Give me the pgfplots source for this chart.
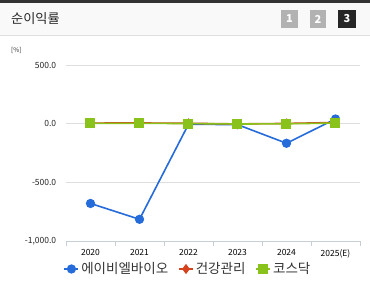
\documentclass[border=0pt]{standalone}
\usepackage{pgfplots}
\pgfplotsset{compat=1.18}
\usepackage{fontspec}
\setmainfont{Noto Sans CJK KR}
\definecolor{cblue}{RGB}{38,107,218}
\definecolor{cred}{RGB}{214,66,30}
\definecolor{cgreen}{RGB}{138,194,28}
\definecolor{gridc}{RGB}{222,222,222}
\definecolor{axc}{RGB}{200,206,214}
\begin{document}
\begin{tikzpicture}[x=1pt,y=1pt]
\useasboundingbox (0,0) rectangle (370,285);
\fill[white] (0,0) rectangle (370,285);
\fill[gray!5] (0,250) rectangle (370,283);
\fill[black!80] (0,282.5) rectangle (370,285);
\draw[gray!25,line width=0.8pt] (0,250) -- (370,250);
\node[anchor=west,inner sep=0,font=\fontsize{13.2}{15}\selectfont,text=black!85] at (11,266) {순이익률};
\fill[gray!60] (281,257) rectangle (298,275);
\fill[gray!60] (310,257) rectangle (326,275);
\fill[black!85] (338,257) rectangle (356,275);
\node[text=white,font=\bfseries\fontsize{11}{12}\selectfont,inner sep=0] at (289.5,266) {1};
\node[text=white,font=\bfseries\fontsize{11}{12}\selectfont,inner sep=0] at (318,266) {2};
\node[text=white,font=\bfseries\fontsize{11}{12}\selectfont,inner sep=0] at (347,266) {3};
\node[anchor=west,inner sep=0,font=\fontsize{6.5}{7}\selectfont,text=black!80] at (11,235) {[\%]};
\begin{axis}[
  at={(66pt,44pt)}, anchor=south west,
  scale only axis, width=294pt, height=176pt,
  xmin=-0.5, xmax=5.5, ymin=-1000, ymax=500,
  axis lines*=left,
  y axis line style={draw=none},
  x axis line style={draw=axc, line width=0.8pt},
  xtick={0,...,5},
  xticklabels={2020,2021,2022,2023,2024,2025(E)},
  major x tick style={draw=none},
  minor xtick={-0.5,0.5,1.5,2.5,3.5,4.5,5.5},
  minor x tick style={draw=axc, line width=0.8pt},
  minor tick length=5pt,
  tick align=outside,
  ytick={-1000,-500,0,500},
  yticklabels={{-1,000.0},{-500.0},{0.0},{500.0}},
  ytick style={draw=none},
  ymajorgrids, grid style={draw=gridc, line width=0.8pt},
  /pgf/number format/assume math mode=true,
  xticklabel style={font=\fontsize{8.5}{9}\selectfont, text=black, yshift=-1pt},
  yticklabel style={font=\fontsize{8.5}{9}\selectfont, text=black!85, xshift=-2pt},
  clip=false,
  legend columns=3,
  legend style={at={(0.415,-0.159)}, anchor=center, draw=none, fill=none,
    font=\fontsize{13.5}{15}\selectfont, text=black!80,
    /tikz/every even column/.append style={column sep=8pt}},
  legend image code/.code={
    \draw[#1] (0pt,0pt) -- (14pt,0pt);
    \draw[#1,mark repeat=2,mark phase=2] plot coordinates {(0pt,0pt) (7pt,0pt) (14pt,0pt)};
  },
]
\addplot[cblue, line width=1.6pt, mark=*, mark size=3.8pt, mark options={fill=cblue,draw=cblue}]
  coordinates {(0,-680) (1,-815) (2,-5) (3,-8) (4,-167) (5,40)};
\addlegendentry{에이비엘바이오}
\addplot[cred, line width=1.6pt, mark=diamond*, mark size=3.8pt, mark options={fill=cred,draw=cred}]
  coordinates {(0,5) (1,6) (2,3) (3,-2) (4,2) (5,10)};
\addlegendentry{건강관리}
\addplot[cgreen, line width=1.6pt, mark=square*, mark size=4.2pt, mark options={fill=cgreen,draw=cgreen}]
  coordinates {(0,2) (1,3) (2,1) (3,-3) (4,-1) (5,5)};
\addlegendentry{코스닥}
\end{axis}
\end{tikzpicture}
\end{document}
